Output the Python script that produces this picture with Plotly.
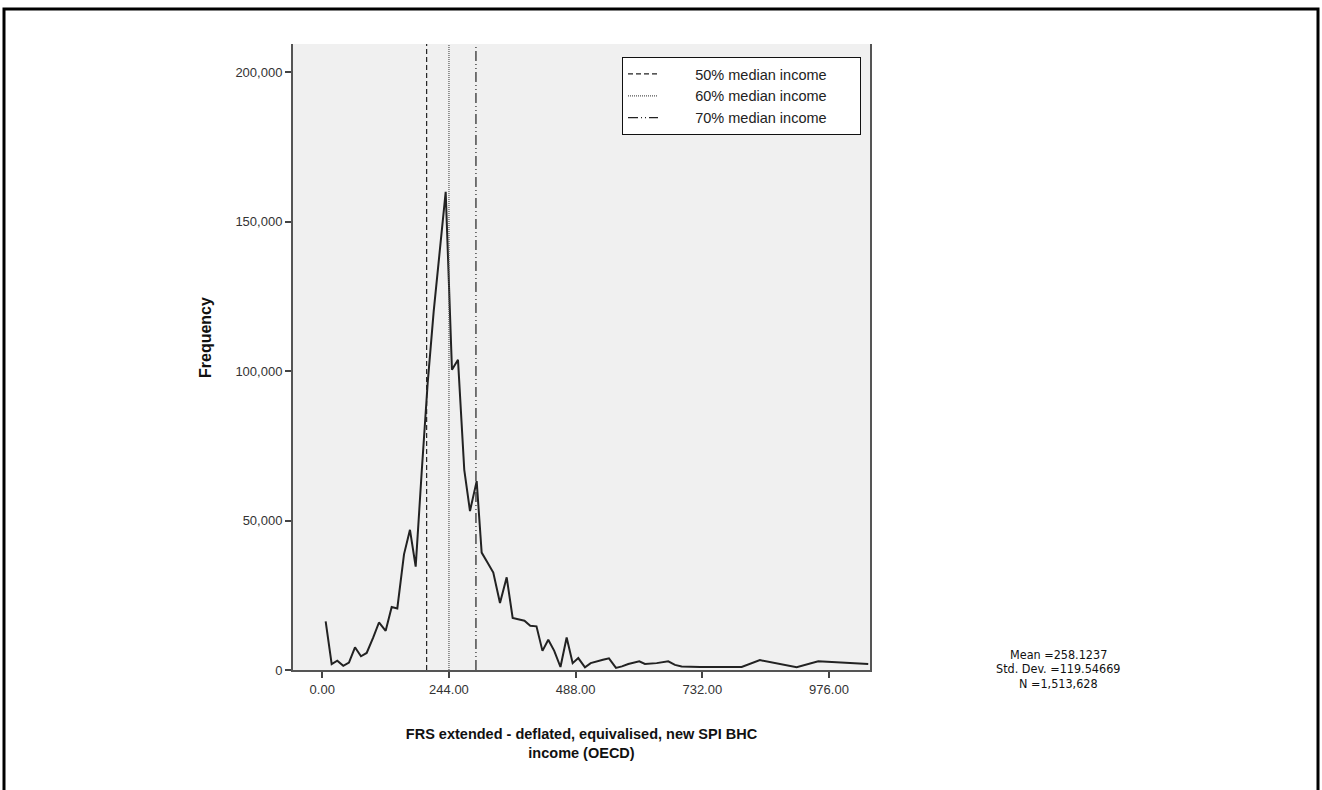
import plotly.graph_objects as go

# ---- data ----
income = [6.5, 18.1, 28.9, 40.4, 51.4, 63.0, 74.5, 85.5, 98.2, 109.2, 122.1, 133.7, 144.5,
          157.4, 168.9, 179.9, 191.4, 203.0, 214.6, 226.1, 237.7, 249.8, 261.4, 273.5,
          284.5, 297.4, 307.0, 318.2, 329.4, 342.3, 355.2, 366.7, 378.9, 389.4, 400.6,
          412.6, 424.1, 435.3, 446.8, 458.8, 470.7, 482.3, 493.1, 506.0, 517.0, 529.1,
          540.6, 552.2, 565.7, 577.2, 589.4, 610.6, 621.5, 644.1, 666.4, 679.3, 692.2,
          727.5, 807.8, 843.0, 881.6, 913.7, 955.3, 997.1, 1051.6]
frequency = [16300, 2000, 3100, 1400, 2500, 7600, 4600, 5700, 10900, 15900, 13100, 21100, 20600,
             38700, 46900, 34600, 66000, 96000, 120000, 140500, 160000, 100500, 103800, 67000,
             53200, 63200, 39300, 36000, 32600, 22400, 31000, 17400, 17000, 16500, 14800,
             14600, 6400, 10100, 6400, 1000, 10900, 2300, 4000, 900, 2300, 3000,
             3400, 3900, 700, 1200, 2000, 2900, 2000, 2300, 2900, 1700, 1200,
             1000, 1000, 3300, 2000, 900, 2900, 2600, 2000]

median_labels = ["50% median income", "60% median income", "70% median income"]
median_values = [201.0, 244.0, 296.0]

x_tick_vals = [0, 244, 488, 732, 976]
x_tick_text = ["0.00", "244.00", "488.00", "732.00", "976.00"]
y_tick_vals = [0, 50000, 100000, 150000, 200000]
y_tick_text = ["0", "50,000", "100,000", "150,000", "200,000"]

stats_lines = ["Mean =258.1237", "Std. Dev. =119.54669", "N =1,513,628"]

X_RANGE = [-56.4, 1055.0]
Y_RANGE = [0, 209500]

FONT = "Liberation Sans, Arial, sans-serif"
NARROW = "Liberation Sans Narrow, Arial Narrow, DejaVu Sans Condensed, sans-serif"

fig = go.Figure()

fig.add_trace(go.Scatter(
    x=income, y=frequency, mode="lines",
    line=dict(color="#222222", width=2),
    showlegend=False, hoverinfo="skip"))

dash_styles = ["5px,3px", "1px,1px", "10px,3px,1px,3px,1px,3px"]
dash_colors = ["#222222", "#555555", "#222222"]
pad = "\u00a0" * 8
tail = "\u00a0" * 7
for lab, val, dsh, col in zip(median_labels, median_values, dash_styles, dash_colors):
    fig.add_trace(go.Scatter(
        x=[val, val], y=Y_RANGE, mode="lines",
        line=dict(color=col, width=1.2, dash=dsh),
        name=pad + lab + tail, hoverinfo="skip"))

PL, PR, PT, PB = 293, 870, 44, 670
W, H = 1322, 790
pw, ph = PR - PL, PB - PT


def px_x(px):
    return (px - PL) / pw


def px_y(py):
    return (PB - py) / ph


fig.update_layout(
    width=W, height=H,
    margin=dict(l=PL, r=W - PR, t=PT, b=H - PB, autoexpand=False),
    paper_bgcolor="white",
    plot_bgcolor="#F0F0F0",
    font=dict(family=FONT, size=13, color="#333333"),
    showlegend=True,
    legend=dict(
        x=px_x(622), y=px_y(57), xanchor="left", yanchor="top",
        bgcolor="white", bordercolor="#111111", borderwidth=1,
        font=dict(family=FONT, size=14.5, color="#222222"),
        tracegroupgap=0, itemwidth=30,
    ),
    xaxis=dict(
        range=X_RANGE, tickvals=x_tick_vals, ticktext=x_tick_text,
        showgrid=False, zeroline=False,
        showline=True, linecolor="#555555", linewidth=2,
        ticks="outside", ticklen=6, tickwidth=1.5, tickcolor="#444444",
        tickfont=dict(family=FONT, size=13, color="#333333"),
        title=dict(text="FRS extended - deflated, equivalised, new SPI BHC<br>income (OECD)",
                   font=dict(family=FONT, size=14.5, color="#111111", weight="bold"),
                   standoff=33),
    ),
    yaxis=dict(
        range=Y_RANGE, tickvals=y_tick_vals, ticktext=y_tick_text,
        showgrid=False, zeroline=False,
        showline=True, linecolor="#555555", linewidth=2, mirror=True,
        ticks="outside", ticklen=6, tickwidth=1.5, tickcolor="#444444",
        tickfont=dict(family=FONT, size=13, color="#333333"),
    ),
)

fig.add_annotation(
    text="Frequency", xref="paper", yref="paper",
    x=px_x(205), y=px_y(338), textangle=-90, showarrow=False,
    xanchor="center", yanchor="middle",
    font=dict(family=FONT, size=16, color="#111111", weight="bold"))

for i, line in enumerate(stats_lines):
    fig.add_annotation(
        text=line, xref="paper", yref="paper",
        x=px_x(1058), y=px_y(654 + 14.5 * i), showarrow=False,
        xanchor="center", yanchor="middle",
        font=dict(family=NARROW, size=12.5, color="#111111"))

# outer frame
fig.add_shape(type="rect", xref="paper", yref="paper",
              x0=px_x(4), x1=px_x(1318), y0=px_y(800), y1=px_y(9),
              line=dict(color="black", width=3), fillcolor="rgba(0,0,0,0)", layer="above")

fig.write_html("out.html",
               config={"displayModeBar": False},
               post_script="document.body.style.margin='0px';document.body.style.overflow='hidden';")
